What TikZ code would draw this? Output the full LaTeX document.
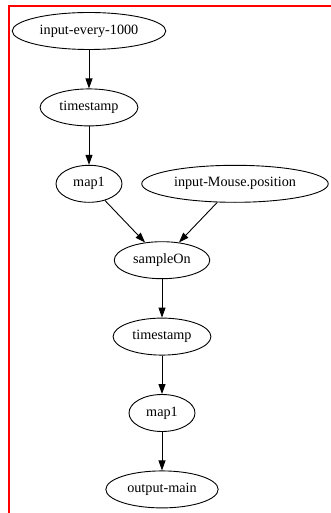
\documentclass[tikz,border=0pt]{standalone}
\usepackage{fontspec}
\setmainfont{Liberation Serif}
\usetikzlibrary{positioning,shapes.geometric,arrows.meta}
\definecolor{framered}{HTML}{FF0000}

\begin{document}
\begin{tikzpicture}[
  x=1pt, y=1pt,
  op/.style={draw, ellipse, line width=0.9pt, inner xsep=5pt, inner ysep=2pt,
             minimum width=66pt, minimum height=37pt,
             font=\fontsize{14.2}{16}\selectfont},
  arr/.style={-{Triangle[length=10pt,width=7pt]}, line width=0.9pt},
  node distance=38.5pt
]
\useasboundingbox (0,0) rectangle (331,-513);
\draw[framered, line width=2.2pt] (9,-513) -- (9,-6) -- (331,-6);

\node[op] (every)  at (89,-31)  {input-every-1000};
\node[op] (ts1)    [below=of every] {timestamp};
\node[op] (mapa)   [below=of ts1]   {map1};
\node[op] (sample) [below=of mapa, xshift=73pt] {sampleOn};
\node[op] (mouse)  [above=of sample, xshift=73pt] {input-Mouse.position};
\node[op] (ts2)    [below=of sample] {timestamp};
\node[op] (mapb)   [below=of ts2]    {map1};
\node[op] (out)    [below=of mapb]   {output-main};

\draw[arr] (every)--(ts1);  \draw[arr] (ts1)--(mapa);
\draw[arr] (mapa)--(sample); \draw[arr] (mouse)--(sample);
\draw[arr] (sample)--(ts2); \draw[arr] (ts2)--(mapb);
\draw[arr] (mapb)--(out);
\end{tikzpicture}
\end{document}
